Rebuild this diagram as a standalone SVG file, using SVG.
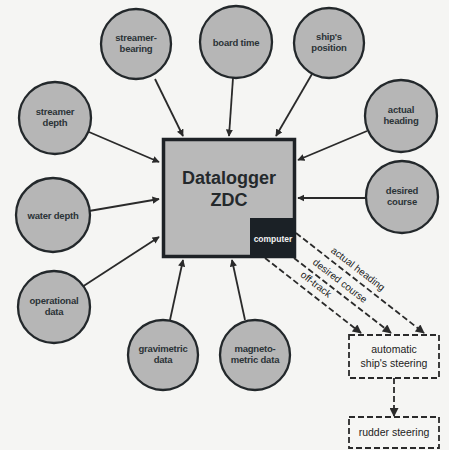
<svg xmlns="http://www.w3.org/2000/svg" width="449" height="450" viewBox="0 0 449 450">
<style>
.c{fill:#b6b6b6;stroke:#23282b;stroke-width:2.3}
.t{font-family:"Liberation Sans",Arial,sans-serif;font-size:9.5px;font-weight:bold;fill:#2b3336;text-anchor:middle;letter-spacing:-0.2px}
.s{stroke:#2a2a2a;stroke-width:1.8;fill:none;marker-end:url(#a)}
.d{stroke:#2a2a2a;stroke-width:1.8;fill:none;stroke-dasharray:6 3;marker-end:url(#b)}
.db{fill:#f6f6f4;stroke:#2a2a2a;stroke-width:1.8;stroke-dasharray:6 3}
.l{font-family:"Liberation Sans",Arial,sans-serif;font-size:10px;fill:#222;text-anchor:middle}
.b{font-family:"Liberation Sans",Arial,sans-serif;font-size:10.5px;fill:#222;text-anchor:middle}
</style>
<defs>
<marker id="a" viewBox="0 0 10 10" refX="9" refY="5" markerWidth="4" markerHeight="4" orient="auto" markerUnits="strokeWidth"><path d="M0,0 L10,5 L0,10 z" fill="#2a2a2a"/></marker>
<marker id="b" viewBox="0 0 10 10" refX="9" refY="5" markerWidth="7" markerHeight="5" orient="auto" markerUnits="strokeWidth"><path d="M0,0 L10,5 L0,10 z" fill="#2a2a2a"/></marker>
</defs>
<rect width="449" height="450" fill="#f5f5f3"/>
<g id="connectors">
<line class="s" x1="155" y1="79" x2="183" y2="136"/>
<line class="s" x1="233" y1="78" x2="229" y2="136"/>
<line class="s" x1="312" y1="74" x2="276" y2="136"/>
<line class="s" x1="89" y1="132" x2="159" y2="162"/>
<line class="s" x1="367" y1="131" x2="298" y2="160"/>
<line class="s" x1="89" y1="211" x2="159" y2="199"/>
<line class="s" x1="366" y1="198" x2="298" y2="198"/>
<line class="s" x1="82" y1="287" x2="159" y2="237"/>
<line class="s" x1="170" y1="320" x2="183" y2="260"/>
<line class="s" x1="245" y1="320" x2="232" y2="260"/>
<line class="d" x1="296" y1="233" x2="424" y2="333"/>
<line class="d" x1="294" y1="258" x2="391" y2="333"/>
<line class="d" x1="265" y1="258" x2="361" y2="333"/>
<line class="d" x1="394" y1="378" x2="394" y2="416"/>
<text class="l" transform="translate(356,271.5) rotate(37.6)">actual heading</text>
<text class="l" transform="translate(338,283.5) rotate(37.6)">desired course</text>
<text class="l" transform="translate(314,287) rotate(37.6)">off-track</text>
</g>
<g id="datalogger">
<rect x="163.5" y="139.5" width="131" height="117" fill="#b9b9b9" stroke="#1e2226" stroke-width="3.5"/>
<text x="229" y="184" font-family="Liberation Sans,Arial,sans-serif" font-size="18" font-weight="bold" fill="#24292c" text-anchor="middle">Datalogger</text>
<text x="229" y="206" font-family="Liberation Sans,Arial,sans-serif" font-size="18" font-weight="bold" fill="#24292c" text-anchor="middle">ZDC</text>
</g>
<g id="computer">
<rect x="250" y="218" width="46" height="40" fill="#1b2126"/>
<text x="273" y="242" font-family="Liberation Sans,Arial,sans-serif" font-size="8.5" font-weight="bold" fill="#f2f2f2" text-anchor="middle">computer</text>
</g>
<g id="streamer-bearing"><circle class="c" cx="136" cy="44" r="35"/><text class="t" x="136" y="41">streamer-</text><text class="t" x="136" y="52">bearing</text></g>
<g id="board-time"><circle class="c" cx="236" cy="42" r="36"/><text class="t" x="236" y="46">board time</text></g>
<g id="ships-position"><circle class="c" cx="329" cy="43" r="35"/><text class="t" x="329" y="40">ship's</text><text class="t" x="329" y="51">position</text></g>
<g id="streamer-depth"><circle class="c" cx="55" cy="118" r="36"/><text class="t" x="55" y="115">streamer</text><text class="t" x="55" y="126">depth</text></g>
<g id="actual-heading"><circle class="c" cx="401" cy="116" r="36"/><text class="t" x="401" y="113">actual</text><text class="t" x="401" y="124">heading</text></g>
<g id="water-depth"><circle class="c" cx="53" cy="215" r="37"/><text class="t" x="53" y="219">water depth</text></g>
<g id="desired-course"><circle class="c" cx="402" cy="197" r="36"/><text class="t" x="402" y="194">desired</text><text class="t" x="402" y="205">course</text></g>
<g id="operational-data"><circle class="c" cx="54" cy="307" r="36"/><text class="t" x="54" y="304">operational</text><text class="t" x="54" y="315">data</text></g>
<g id="gravimetric-data"><circle class="c" cx="163" cy="355" r="35"/><text class="t" x="163" y="352">gravimetric</text><text class="t" x="163" y="363">data</text></g>
<g id="magnetometric-data"><circle class="c" cx="255" cy="355" r="35"/><text class="t" x="255" y="352">magneto-</text><text class="t" x="255" y="363">metric data</text></g>
<g id="automatic-steering">
<rect class="db" x="349" y="335" width="90" height="43"/>
<text class="b" x="394" y="353">automatic</text>
<text class="b" x="394" y="367">ship's steering</text>
</g>
<g id="rudder-steering">
<rect class="db" x="349" y="417" width="90" height="31"/>
<text class="b" x="394" y="436">rudder steering</text>
</g>
</svg>
